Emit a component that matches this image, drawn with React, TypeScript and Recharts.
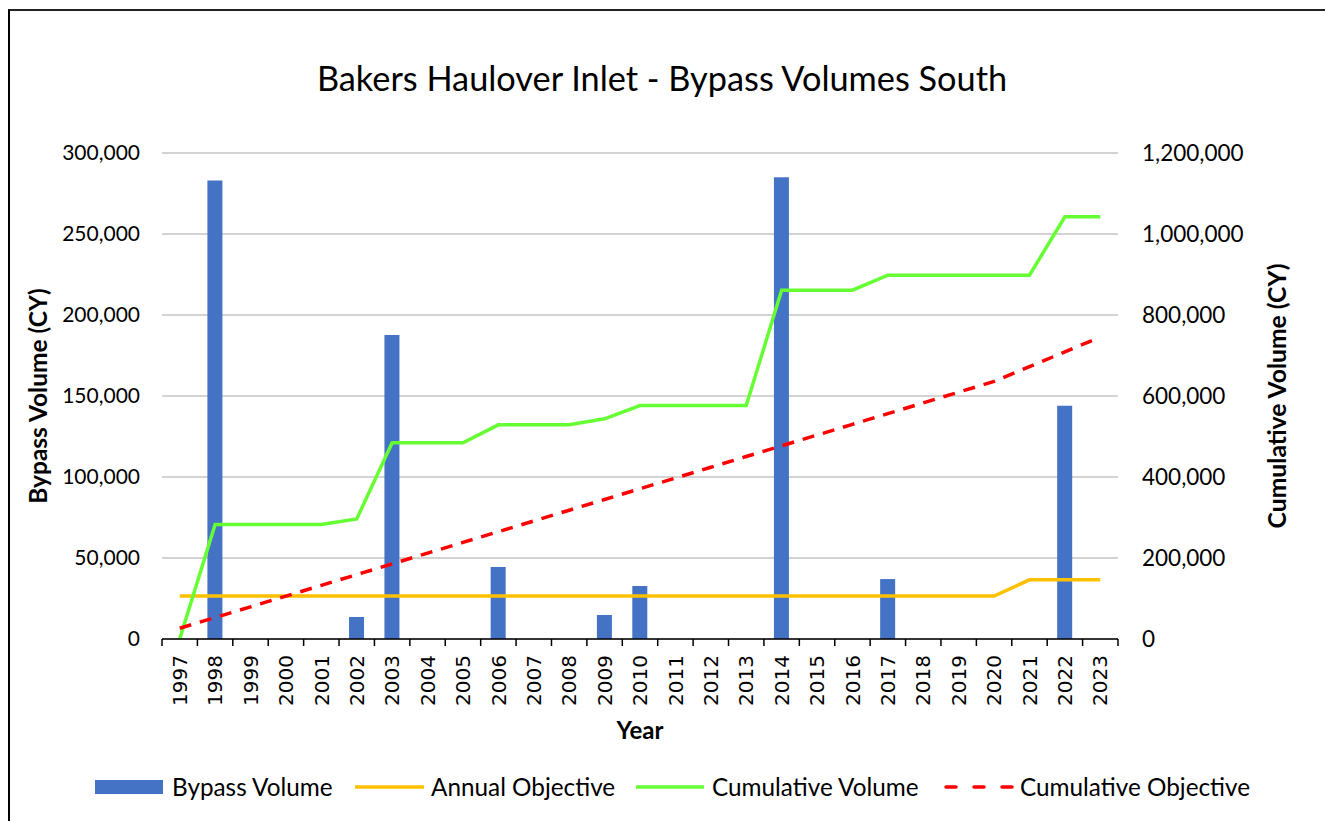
import React from 'react';
import { ComposedChart, Bar, Line, XAxis, YAxis, CartesianGrid, Legend } from 'recharts';

const years = ['1997', '1998', '1999', '2000', '2001', '2002', '2003', '2004', '2005', '2006', '2007', '2008', '2009', '2010', '2011', '2012', '2013', '2014', '2015', '2016', '2017', '2018', '2019', '2020', '2021', '2022', '2023'];
const bypassVolume = [0, 283000, 0, 0, 0, 13600, 187700, 0, 0, 44500, 0, 0, 14800, 32700, 0, 0, 0, 285000, 0, 0, 37000, 0, 0, 0, 0, 144000, 0];
const annualObjective = [26500, 26500, 26500, 26500, 26500, 26500, 26500, 26500, 26500, 26500, 26500, 26500, 26500, 26500, 26500, 26500, 26500, 26500, 26500, 26500, 26500, 26500, 26500, 26500, 36500, 36500, 36500];
const cumulativeVolume = [0, 283000, 283000, 283000, 283000, 296600, 484300, 484300, 484300, 528800, 528800, 528800, 543600, 576300, 576300, 576300, 576300, 861300, 861300, 861300, 898300, 898300, 898300, 898300, 898300, 1042300, 1042300];
const cumulativeObjective = [26500, 53000, 79500, 106000, 132500, 159000, 185500, 212000, 238500, 265000, 291500, 318000, 344500, 371000, 397500, 424000, 450500, 477000, 503500, 530000, 556500, 583000, 609500, 636000, 672500, 709000, 745500];
const leftTicks = [0, 50000, 100000, 150000, 200000, 250000, 300000];
const rightTicks = [0, 200000, 400000, 600000, 800000, 1000000, 1200000];

const TITLE = 'Bakers Haulover Inlet - Bypass Volumes South';
const LEFT_TITLE = 'Bypass Volume (CY)';
const RIGHT_TITLE = 'Cumulative Volume (CY)';
const X_TITLE = 'Year';

const data = years.map((year, i) => ({
  year,
  bypass: bypassVolume[i],
  annual: annualObjective[i],
  cumVol: cumulativeVolume[i],
  cumObj: cumulativeObjective[i],
}));

const FONT = 'Lato, "Open Sans", sans-serif';
const fmt = (v: number) => v.toLocaleString('en-US');

const XTick = (props: any) => {
  const { x, y, payload, index, visibleTicksCount, width } = props;
  const half = payload && typeof payload.offset === 'number' && payload.offset > 0
    ? payload.offset
    : width / (visibleTicksCount || 27) / 2;
  const isLast = index === (visibleTicksCount || 27) - 1;
  const ty = y + 16;
  return (
    <g>
      <line x1={x - half} x2={x - half} y1={y} y2={y + 7} stroke="#000" strokeWidth={1.5} />
      {isLast && <line x1={x + half} x2={x + half} y1={y} y2={y + 7} stroke="#000" strokeWidth={1.5} />}
      <g transform={`translate(${x}, ${ty}) rotate(-90)`}>
        <text
          x={0}
          y={0}
          textAnchor="end"
          dy="0.36em"
          style={{ fontFamily: "'DejaVu Sans'", fontSize: '20px' }}
          fill="#000"
        >
          {payload.value}
        </text>
      </g>
    </g>
  );
};

const renderLegend = () => {
  const textStyle: React.CSSProperties = {
    position: 'absolute',
    top: 0,
    lineHeight: '40px',
    fontFamily: FONT,
    fontSize: 24.3,
    color: '#000',
    whiteSpace: 'nowrap',
  };
  return (
    <div style={{ position: 'relative', width: 1325, height: 40 }}>
      <svg width={1325} height={40} style={{ position: 'absolute', left: 0, top: 0 }}>
        <rect x={95} y={13} width={68} height={14} fill="#4472C4" />
        <line x1={355} x2={424} y1={20} y2={20} stroke="#FFC000" strokeWidth={3.5} />
        <line x1={636} x2={704} y1={20} y2={20} stroke="#66FF33" strokeWidth={3.5} />
        <line x1={946} x2={1012} y1={20} y2={20} stroke="#FF0000" strokeWidth={3.5} strokeDasharray="10 18" strokeLinecap="round" />
      </svg>
      <span style={{ ...textStyle, left: 172 }}>Bypass Volume</span>
      <span style={{ ...textStyle, left: 431 }}>Annual Objective</span>
      <span style={{ ...textStyle, left: 712 }}>Cumulative Volume</span>
      <span style={{ ...textStyle, left: 1020 }}>Cumulative Objective</span>
    </div>
  );
};

const LeftTitle = (props: any) => {
  const { viewBox } = props;
  const cy = viewBox.y + viewBox.height / 2;
  return (
    <text x={37} y={cy} transform={`rotate(-90, 37, ${cy})`} textAnchor="middle" dominantBaseline="central"
      fontFamily={FONT} fontWeight="bold" fontSize={24.5} fill="#000">{LEFT_TITLE}</text>
  );
};

const RightTitle = (props: any) => {
  const { viewBox } = props;
  const cy = viewBox.y + viewBox.height / 2;
  return (
    <text x={1276} y={cy} transform={`rotate(-90, 1276, ${cy})`} textAnchor="middle" dominantBaseline="central"
      fontFamily={FONT} fontWeight="bold" fontSize={24.7} fill="#000">{RIGHT_TITLE}</text>
  );
};

const XTitle = (props: any) => {
  const { viewBox } = props;
  const cx = viewBox.x + viewBox.width / 2;
  return (
    <text x={cx} y={729} textAnchor="middle" dominantBaseline="central"
      fontFamily={FONT} fontWeight="bold" fontSize={24} fill="#000">{X_TITLE}</text>
  );
};

export default function App() {
  return (
    <div style={{ position: 'absolute', left: 0, top: 0, width: 1325, height: 821, overflow: 'hidden', background: '#fff' }}>
      <div style={{ position: 'absolute', left: 8, top: 9, width: 1400, height: 900, borderLeft: '2px solid #000', borderTop: '2px solid #222' }} />
      <div style={{ position: 'absolute', left: 0, top: 0 }}>
        <ComposedChart width={1325} height={821} data={data} margin={{ top: 153, right: 0, bottom: 14, left: 0 }}>
          <CartesianGrid vertical={false} stroke="#C4C4C4" strokeWidth={1.3} />
          <XAxis
            dataKey="year"
            type="category"
            interval={0}
            height={128}
            tickLine={false}
            tickSize={0}
            tickMargin={0}
            axisLine={{ stroke: '#000', strokeWidth: 1.5 }}
            tick={(p: any) => <XTick {...p} />}
            label={<XTitle />}
          />
          <YAxis
            domain={[0, 300000]}
            ticks={leftTicks}
            width={162}
            axisLine={false}
            tickLine={false}
            tickSize={0}
            tickMargin={22}
            tickFormatter={fmt}
            tick={{ fontFamily: FONT, fontSize: 21, fill: '#000' }}
            label={<LeftTitle />}
          />
          <YAxis
            yAxisId="right"
            orientation="right"
            domain={[0, 1200000]}
            ticks={rightTicks}
            width={207}
            axisLine={false}
            tickLine={false}
            tickSize={0}
            tickMargin={24}
            tickFormatter={fmt}
            tick={{ fontFamily: FONT, fontSize: 22.5, fill: '#000', textAnchor: 'start' }}
            label={<RightTitle />}
          />
          <Legend verticalAlign="bottom" height={40} content={renderLegend} wrapperStyle={{ height: 40 }} />
          <Bar name="Bypass Volume" dataKey="bypass" fill="#4472C4" barSize={15} isAnimationActive={false} />
          <Line name="Annual Objective" type="linear" dataKey="annual" stroke="#FFC000" strokeWidth={3.5} dot={false} isAnimationActive={false} />
          <Line name="Cumulative Volume" yAxisId="right" type="linear" dataKey="cumVol" stroke="#66FF33" strokeWidth={3.5} dot={false} isAnimationActive={false} />
          <Line name="Cumulative Objective" yAxisId="right" type="linear" dataKey="cumObj" stroke="#FF0000" strokeWidth={3.5} strokeDasharray="12 9" dot={false} isAnimationActive={false} />
        </ComposedChart>
      </div>
      <svg width={1325} height={120} style={{ position: 'absolute', left: 0, top: 0, pointerEvents: 'none' }}>
        <text x={662} y={91} textAnchor="middle" fontFamily={FONT} fontSize={34.3} fill="#000">{TITLE}</text>
      </svg>
    </div>
  );
}
